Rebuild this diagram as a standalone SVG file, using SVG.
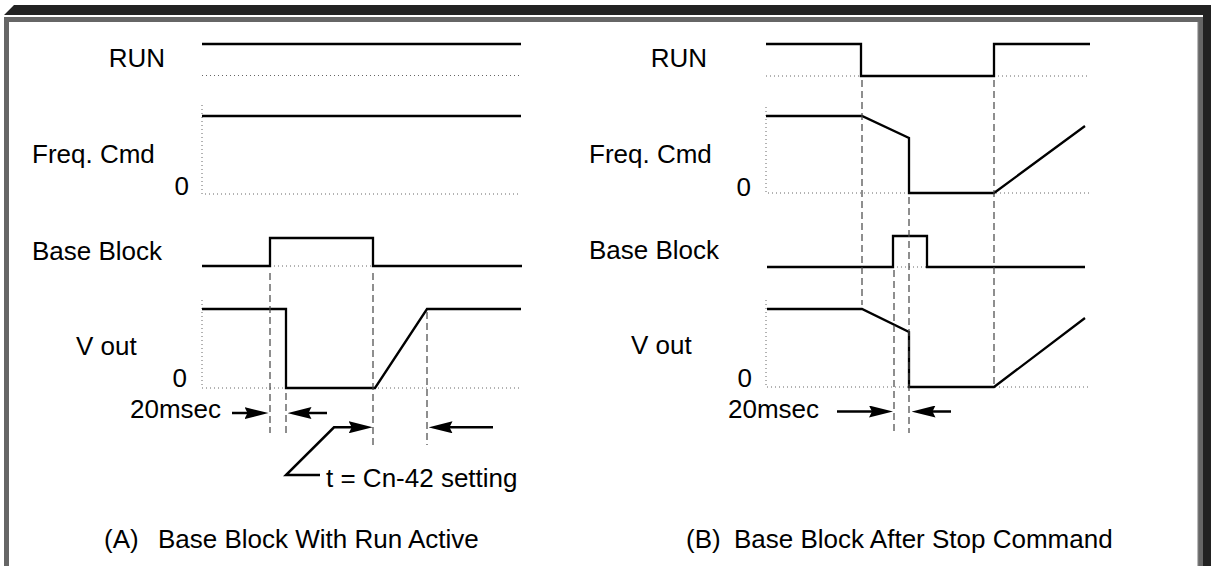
<svg xmlns="http://www.w3.org/2000/svg" width="1211" height="566" viewBox="0 0 1211 566">
<style>
text{font-family:"Liberation Sans",Arial,sans-serif;font-size:26px;fill:#000}
.sig{fill:none;stroke:#000;stroke-width:2.3;stroke-linejoin:miter}
.dot{fill:none;stroke:#666;stroke-width:1;stroke-dasharray:1 3}
.dash{fill:none;stroke:#444;stroke-width:1.2;stroke-dasharray:7 4}
.arr{fill:none;stroke:#000;stroke-width:2.5;marker-end:url(#ah)}
</style>
<defs>
<marker id="ah" markerUnits="userSpaceOnUse" markerWidth="24" markerHeight="12" viewBox="0 0 24 12" refX="4" refY="6" orient="auto">
<path d="M0,0 L24,6 L0,12 L3,6 Z" fill="#000"/>
</marker>
</defs>
<rect width="1211" height="566" fill="#fff"/>
<g id="frame">
<polygon points="4,15 14,5 1211,5 1211,566 1203,566 1203,15" fill="#222"/>
<polygon points="4,17 1203,17 1203,566 1198,566 1198,22 9,22 9,566 4,566" fill="#666"/>
<rect x="1197" y="22" width="1.2" height="544" fill="#bbb"/>
</g>
<g id="panel-a">
<g id="a-run">
<text x="165" y="67" text-anchor="end">RUN</text>
<path class="dot" d="M202,75.5 H521"/>
<path class="sig" d="M202,44 H521"/>
</g>
<g id="a-freq">
<text x="32" y="163">Freq. Cmd</text>
<text x="189" y="195" text-anchor="end">0</text>
<path class="dot" d="M202,105 V194 H521"/>
<path class="sig" d="M202,116 H521"/>
</g>
<g id="a-bb">
<text x="32" y="259.5">Base Block</text>
<path class="dot" d="M270,266 H373"/>
<path class="sig" d="M202,266 H270 V238 H373 V266 H522"/>
</g>
<g id="a-vout">
<text x="76" y="355">V out</text>
<text x="187" y="387" text-anchor="end">0</text>
<path class="dot" d="M202,300 V388 H522"/>
<path class="sig" d="M202,309 H286 V388 H375 L427,309 H521"/>
</g>
<g id="a-labels">
<text x="130" y="418">20msec</text>
<text x="326" y="487">t = Cn-42 setting</text>
<text x="104" y="548">(A)</text>
<text x="158" y="548">Base Block With Run Active</text>
</g>
</g>
<g id="panel-b">
<g id="b-run">
<text x="707" y="67" text-anchor="end">RUN</text>
<path class="dot" d="M766,76 H1090"/>
<path class="sig" d="M766,44 H861 V76 H994 V44 H1090"/>
</g>
<g id="b-freq">
<text x="589" y="163">Freq. Cmd</text>
<text x="751" y="196" text-anchor="end">0</text>
<path class="dot" d="M766,107 V193 H1090"/>
<path class="sig" d="M766,116 H862 L909,138 V193 H994 L1085,126"/>
</g>
<g id="b-bb">
<text x="589" y="258.5">Base Block</text>
<path class="dot" d="M893,267 H927"/>
<path class="sig" d="M767,267 H893 V236 H927 V267 H1085"/>
</g>
<g id="b-vout">
<text x="631" y="354">V out</text>
<text x="752" y="387" text-anchor="end">0</text>
<path class="dot" d="M766,300 V387 H1090"/>
<path class="sig" d="M767,309 H862 L909,332 V387 H994 L1085,318"/>
</g>
<g id="b-labels">
<text x="728" y="418">20msec</text>
<text x="686" y="548">(B)</text>
<text x="734" y="548">Base Block After Stop Command</text>
</g>
</g>
<g id="connectors">
<path class="dash" d="M270,273 V433"/>
<path class="dash" d="M286,393 V433"/>
<path class="dash" d="M373,273 V445"/>
<path class="dash" d="M427,312 V445"/>
<path class="dash" d="M862,80 V305"/>
<path class="dash" d="M994,80 V385"/>
<path class="dash" d="M909,197 V433"/>
<path class="dash" d="M894,270 V433"/>
<path class="arr" d="M232,413 H248.5"/>
<path class="arr" d="M327,413 H307.5"/>
<path class="arr" d="M320,475 H286 L334,427.3 H352.7"/>
<path class="arr" d="M493,427.3 H448.5"/>
<path class="arr" d="M837,411.5 H873"/>
<path class="arr" d="M951,411.5 H931.5"/>
</g>
</svg>
